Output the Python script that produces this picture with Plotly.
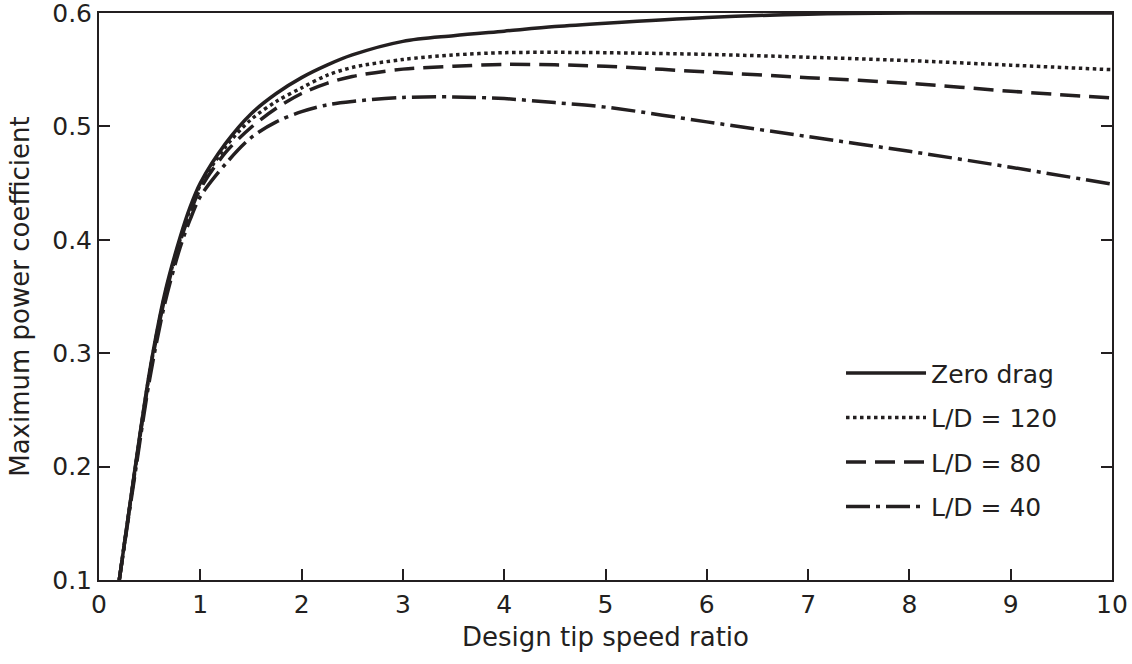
import plotly.graph_objects as go

# Design tip speed ratio (shared x grid)
tsr = [0.2, 0.35, 0.5, 0.65, 0.8, 0.9, 1.0, 1.25, 1.5, 1.75, 2.0, 2.25, 2.5, 3.0, 3.5, 4.0, 4.5, 5.0, 6.0, 7.0, 8.0, 9.0, 10.0]

# Maximum power coefficient for each case
cp_zero_drag = [0.100, 0.195, 0.284, 0.353, 0.402, 0.429, 0.450, 0.485, 0.511, 0.529, 0.543, 0.554, 0.563, 0.575, 0.580, 0.584, 0.588, 0.591, 0.596, 0.599, 0.600, 0.600, 0.600]
cp_ld120 = [0.100, 0.194, 0.283, 0.351, 0.400, 0.427, 0.448, 0.482, 0.506, 0.522, 0.534, 0.545, 0.552, 0.559, 0.563, 0.565, 0.5653, 0.565, 0.5635, 0.561, 0.558, 0.554, 0.550]
cp_ld80 = [0.100, 0.193, 0.281, 0.349, 0.398, 0.424, 0.445, 0.477, 0.499, 0.516, 0.529, 0.538, 0.544, 0.5505, 0.553, 0.5547, 0.5543, 0.553, 0.548, 0.543, 0.538, 0.531, 0.525]
cp_ld40 = [0.100, 0.190, 0.277, 0.344, 0.393, 0.418, 0.438, 0.467, 0.490, 0.504, 0.513, 0.519, 0.522, 0.5255, 0.526, 0.5245, 0.521, 0.517, 0.504, 0.491, 0.478, 0.464, 0.449]

series_names = ["Zero drag", "L/D = 120", "L/D = 80", "L/D = 40"]

x_ticks = [0, 1, 2, 3, 4, 5, 6, 7, 8, 9, 10]
y_ticks = [0.1, 0.2, 0.3, 0.4, 0.5, 0.6]
y_tick_text = ["0.1", "0.2", "0.3", "0.4", "0.5", "0.6"]

INK = "#231f20"
FONT = "DejaVu Sans"

dashes = ["solid", "3.5px,3.5px", "20px,9px", "24px,6px,4px,6px"]
series = [cp_zero_drag, cp_ld120, cp_ld80, cp_ld40]

fig = go.Figure()
for i, (name, ys, dash) in enumerate(zip(series_names, series, dashes)):
    fig.add_trace(go.Scatter(
        x=tsr, y=ys, name=name, mode="lines",
        legendgroup=f"g{i}",
        line=dict(color=INK, width=3.5, dash=dash, shape="spline", smoothing=0.9),
    ))

axis_common = dict(
    showgrid=False, zeroline=False, automargin=False,
    showline=True, linecolor=INK, linewidth=2,
    ticks="inside", ticklen=11, tickwidth=2, tickcolor=INK,
    ticklabeloverflow="allow",
    tickfont=dict(family=FONT, size=25, color=INK),
)

fig.update_layout(
    width=1132, height=664,
    margin=dict(l=99, r=20, t=13, b=84),
    paper_bgcolor="white", plot_bgcolor="white",
    font=dict(family=FONT, color=INK),
    xaxis=dict(
        range=[0, 10], tickvals=x_ticks, mirror=True, ticklabelstandoff=1,
        title=dict(text="Design tip speed ratio", font=dict(family=FONT, size=26, color=INK), standoff=10),
        **axis_common,
    ),
    yaxis=dict(
        range=[0.1, 0.6], tickvals=y_ticks, ticktext=y_tick_text, mirror="ticks",
        title=dict(text="Maximum power coefficient", font=dict(family=FONT, size=26, color=INK), standoff=15),
        **axis_common,
    ),
    legend=dict(
        x=0.7325, y=0.405, xanchor="left", yanchor="top",
        bgcolor="rgba(0,0,0,0)",
        font=dict(family=FONT, size=25, color=INK),
        itemwidth=80, tracegroupgap=9,
    ),
    showlegend=True,
)

# remove the browser's default 8px body margin so the figure fills the window
fig.write_html(
    "out.html",
    config={"displayModeBar": False},
    post_script="document.body.style.margin='0';",
)
